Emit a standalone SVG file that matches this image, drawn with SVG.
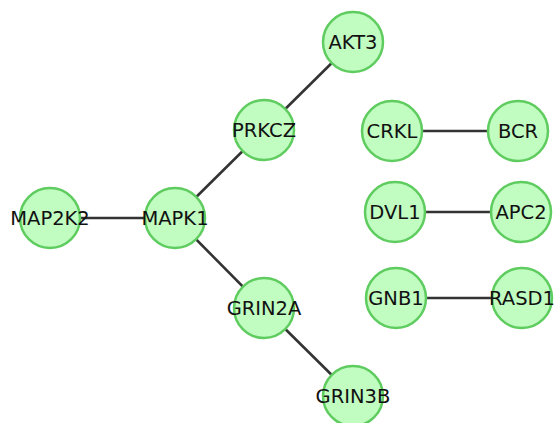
<svg xmlns="http://www.w3.org/2000/svg" width="555" height="423" viewBox="0 0 555 423">
<style>
.edge{stroke:#333333;stroke-width:2.6;fill:none}
.node circle{fill:#c1fcc1;stroke:#5fcc5f;stroke-width:2.5}
.node text{font-family:"DejaVu Sans",sans-serif;font-size:19.5px;fill:#111111;text-anchor:middle;dominant-baseline:central}
</style>
<rect width="555" height="423" fill="#ffffff"/>
<g id="edges">
<line class="edge" x1="50" y1="218" x2="175" y2="218"/>
<line class="edge" x1="175" y1="218" x2="264" y2="130"/>
<line class="edge" x1="264" y1="130" x2="353" y2="42"/>
<line class="edge" x1="175" y1="218" x2="264" y2="308"/>
<line class="edge" x1="264" y1="308" x2="353" y2="396"/>
<line class="edge" x1="392" y1="131" x2="518" y2="131"/>
<line class="edge" x1="395" y1="212" x2="521" y2="212"/>
<line class="edge" x1="396" y1="298" x2="522" y2="298"/>
</g>
<g id="AKT3" class="node"><circle cx="353" cy="42" r="30"/><text x="353" y="42">AKT3</text></g>
<g id="PRKCZ" class="node"><circle cx="264" cy="130" r="30"/><text x="264" y="130">PRKCZ</text></g>
<g id="MAP2K2" class="node"><circle cx="50" cy="218" r="30"/><text x="50" y="218">MAP2K2</text></g>
<g id="MAPK1" class="node"><circle cx="175" cy="218" r="30"/><text x="175" y="218">MAPK1</text></g>
<g id="GRIN2A" class="node"><circle cx="264" cy="308" r="30"/><text x="264" y="308">GRIN2A</text></g>
<g id="GRIN3B" class="node"><circle cx="353" cy="396" r="30"/><text x="353" y="396">GRIN3B</text></g>
<g id="CRKL" class="node"><circle cx="392" cy="131" r="30"/><text x="392" y="131">CRKL</text></g>
<g id="BCR" class="node"><circle cx="518" cy="131" r="30"/><text x="518" y="131">BCR</text></g>
<g id="DVL1" class="node"><circle cx="395" cy="212" r="30"/><text x="395" y="212">DVL1</text></g>
<g id="APC2" class="node"><circle cx="521" cy="212" r="30"/><text x="521" y="212">APC2</text></g>
<g id="GNB1" class="node"><circle cx="396" cy="298" r="30"/><text x="396" y="298">GNB1</text></g>
<g id="RASD1" class="node"><circle cx="522" cy="298" r="30"/><text x="522" y="298">RASD1</text></g>
</svg>
